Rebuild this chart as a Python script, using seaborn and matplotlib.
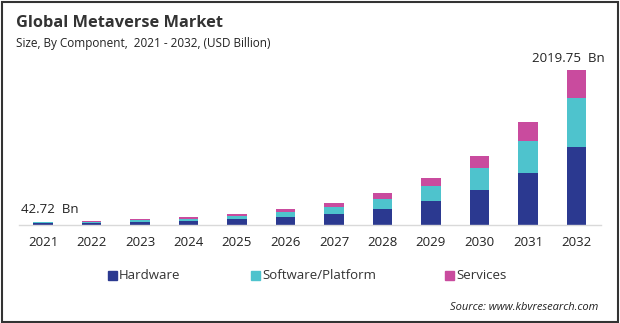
import matplotlib
matplotlib.use("Agg")
import matplotlib.pyplot as plt
import seaborn as sns
import pandas as pd
import numpy as np
from matplotlib.patches import Rectangle

years = ["2021", "2022", "2023", "2024", "2025", "2026", "2027", "2028", "2029", "2030", "2031", "2032"]
hardware = [22, 24, 40, 56, 78, 104, 147, 208, 313, 456, 678, 1020]
software = [12, 14, 22, 25, 38, 65, 91, 130, 200, 287, 421, 634]
services = [8.72, 10, 16, 23, 27, 39, 48, 78, 104, 156, 248, 365.75]
series_names = ["Hardware", "Software/Platform", "Services"]
colors = ["#2B3990", "#4EC3CD", "#C94B9E"]
first_label = "42.72  Bn"
last_label = "2019.75  Bn"

df = pd.DataFrame({"year": years, "Hardware": hardware,
                   "Software/Platform": software, "Services": services})
df["hw_sw"] = df["Hardware"] + df["Software/Platform"]
df["total"] = df["hw_sw"] + df["Services"]

sns.set_theme(style="white")
plt.rcParams["font.family"] = ["Open Sans", "DejaVu Sans"]

fig = plt.figure(figsize=(6.2, 3.23), dpi=100)
ax = fig.add_axes([18.75 / 620, 1 - 225 / 323, (600.75 - 18.75) / 620, 175 / 323])

sns.barplot(data=df, x="year", y="total", color=colors[2], width=0.4, ax=ax,
            saturation=1, edgecolor="none")
sns.barplot(data=df, x="year", y="hw_sw", color=colors[1], width=0.4, ax=ax,
            saturation=1, edgecolor="none")
sns.barplot(data=df, x="year", y="Hardware", color=colors[0], width=0.4, ax=ax,
            saturation=1, edgecolor="none")

ax.set_xlim(-0.5, len(years) - 0.5)
ax.set_ylim(0, 2280)
ax.set_xlabel("")
ax.set_ylabel("")
ax.set_yticks([])
for s in ["top", "right", "left"]:
    ax.spines[s].set_visible(False)
ax.spines["bottom"].set_color("#D9D9D9")
ax.spines["bottom"].set_linewidth(1)
ax.tick_params(axis="x", length=0, pad=8, labelsize=9.5, colors="#222222")

ax.text(0 - 0.46, df["total"].iloc[0] + 80, first_label, ha="left", va="bottom",
        fontsize=9.5, color="#222222")
ax.text(11 + 0.58, df["total"].iloc[-1] + 60, last_label, ha="right", va="bottom",
        fontsize=9.5, color="#222222")

fig.text(16 / 620, 1 - 23 / 323, "Global Metaverse Market", fontsize=11.8,
         fontweight="bold", color="#333333", ha="left", va="center")
fig.text(16 / 620, 1 - 44 / 323, "Size, By Component,  2021 - 2032, (USD Billion)",
         fontsize=8.5, color="#222222", ha="left", va="center")

# legend
leg_x = [108, 251, 445]
for name, col, x in zip(series_names, colors, leg_x):
    fig.patches.append(Rectangle((x / 620, 1 - 280 / 323), 9 / 620, 9 / 323,
                                 transform=fig.transFigure, color=col, figure=fig))
    fig.text((x + 11) / 620, 1 - 275.5 / 323, name, fontsize=9.5, color="#333333",
             ha="left", va="center")

fig.text(598 / 620, 1 - 307 / 323, "Source: www.kbvresearch.com", fontsize=8,
         style="italic", color="#222222", ha="right", va="center")

fig.patches.append(Rectangle((1.5 / 620, 1.5 / 323), 616.5 / 620, 320 / 323,
                             transform=fig.transFigure, fill=False,
                             edgecolor="#333333", linewidth=1.5, figure=fig))

fig.savefig("out.png", dpi=100)
